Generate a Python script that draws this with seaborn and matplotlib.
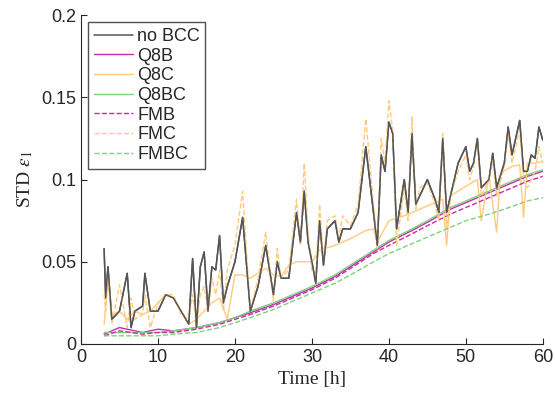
import numpy as np
import pandas as pd
import seaborn as sns
import matplotlib.pyplot as plt

# noisy series
t_gray = [3, 3.2, 3.5, 4, 5, 6, 6.5, 7, 8, 8.3, 9, 10, 11, 12, 13, 14, 14.5, 15, 15.5, 16, 16.5, 17, 17.5, 18,
          18.5, 19, 20, 21, 22, 23, 24, 25, 25.5, 26, 27, 28, 28.5, 29, 29.5, 30, 30.5, 31, 31.5, 32, 33, 33.5,
          34, 35, 36, 37, 38, 38.5, 39, 39.5, 40, 40.5, 41, 42, 42.5, 43, 43.5, 44, 45, 46, 46.5, 47, 47.5, 48,
          49, 50, 50.5, 51, 51.5, 52, 53, 53.5, 54, 55, 55.5, 56, 57, 57.5, 58, 58.5, 59, 59.5, 60]
no_bcc = [0.058, 0.028, 0.047, 0.015, 0.02, 0.043, 0.01, 0.02, 0.023, 0.043, 0.02, 0.02, 0.03, 0.028, 0.02,
          0.012, 0.052, 0.01, 0.047, 0.056, 0.02, 0.047, 0.045, 0.066, 0.025, 0.035, 0.05, 0.077, 0.02, 0.035,
          0.06, 0.03, 0.05, 0.04, 0.04, 0.08, 0.062, 0.093, 0.062, 0.05, 0.037, 0.075, 0.048, 0.07, 0.075, 0.062,
          0.07, 0.07, 0.08, 0.12, 0.08, 0.06, 0.115, 0.105, 0.135, 0.128, 0.07, 0.1, 0.08, 0.128, 0.085, 0.09,
          0.1, 0.088, 0.08, 0.125, 0.08, 0.09, 0.11, 0.12, 0.105, 0.11, 0.125, 0.095, 0.1, 0.116, 0.095, 0.11,
          0.132, 0.115, 0.136, 0.105, 0.105, 0.115, 0.113, 0.132, 0.124]
fmc = [0.03, 0.02, 0.042, 0.012, 0.036, 0.01, 0.028, 0.015, 0.018, 0.03, 0.01, 0.025, 0.03, 0.03, 0.018,
       0.015, 0.03, 0.012, 0.03, 0.035, 0.02, 0.04, 0.03, 0.045, 0.02, 0.045, 0.06, 0.093, 0.02, 0.04,
       0.068, 0.026, 0.058, 0.04, 0.045, 0.088, 0.06, 0.11, 0.068, 0.045, 0.04, 0.085, 0.05, 0.075, 0.078, 0.065,
       0.078, 0.072, 0.085, 0.137, 0.085, 0.058, 0.125, 0.11, 0.148, 0.13, 0.06, 0.095, 0.075, 0.138, 0.082, 0.095,
       0.098, 0.085, 0.075, 0.128, 0.07, 0.09, 0.105, 0.115, 0.1, 0.108, 0.125, 0.09, 0.1, 0.112, 0.09, 0.108,
       0.128, 0.11, 0.13, 0.1, 0.095, 0.1, 0.105, 0.12, 0.11]

t_q8c = [3, 3.5, 4, 5, 6, 7, 8, 9, 10, 11, 12, 13, 14, 15, 16, 17, 18, 19, 20, 21, 22, 23, 24, 25, 26, 27, 28,
         30, 31, 33, 35, 37, 38, 38.5, 40, 42, 44, 46, 47, 47.5, 48, 50, 51.5, 52, 53, 54, 54.5, 56, 57,
         57.5, 58, 59, 60]
q8c = [0.012, 0.04, 0.018, 0.02, 0.015, 0.02, 0.018, 0.02, 0.025, 0.03, 0.028, 0.02, 0.012, 0.015, 0.02,
       0.025, 0.028, 0.015, 0.042, 0.042, 0.04, 0.043, 0.046, 0.042, 0.041, 0.048, 0.05, 0.05, 0.057,
       0.06, 0.064, 0.069, 0.07, 0.062, 0.075, 0.078, 0.082, 0.086, 0.088, 0.06, 0.09, 0.096, 0.1, 0.075,
       0.102, 0.068, 0.104, 0.108, 0.109, 0.077, 0.11, 0.11, 0.111]

# smooth series
t_s = [3, 5, 8, 10, 12, 15, 18, 20, 22, 25, 28, 30, 33, 35, 38, 40, 43, 45, 48, 50, 53, 55, 58, 60]
q8bc = [0.007, 0.007, 0.007, 0.007, 0.008, 0.01, 0.013, 0.016, 0.02, 0.025, 0.031, 0.035, 0.042, 0.048,
        0.057, 0.063, 0.07, 0.075, 0.083, 0.087, 0.093, 0.097, 0.103, 0.106]
q8b = [0.006, 0.01, 0.007, 0.009, 0.008, 0.01, 0.013, 0.016, 0.019, 0.024, 0.03, 0.034, 0.041, 0.047,
       0.056, 0.062, 0.069, 0.074, 0.082, 0.086, 0.092, 0.096, 0.102, 0.105]
fmb = [0.005, 0.008, 0.006, 0.007, 0.007, 0.009, 0.012, 0.015, 0.018, 0.023, 0.029, 0.033, 0.04, 0.046,
       0.055, 0.06, 0.067, 0.072, 0.079, 0.083, 0.089, 0.093, 0.099, 0.102]
fmbc = [0.005, 0.005, 0.005, 0.005, 0.006, 0.007, 0.01, 0.013, 0.016, 0.021, 0.027, 0.031, 0.037, 0.042,
        0.05, 0.055, 0.061, 0.065, 0.071, 0.075, 0.079, 0.082, 0.087, 0.089]

sns.set_style("ticks")
plt.rcParams["font.family"] = ["Liberation Sans", "DejaVu Sans"]
plt.rcParams["mathtext.fontset"] = "stix"
plt.rcParams["xtick.direction"] = "in"
plt.rcParams["ytick.direction"] = "in"

gray, mag, ora, grn = "#555555", "#c22fa6", "#ffca80", "#7fd17f"

fig, ax = plt.subplots(figsize=(5.55, 4.0), dpi=100)
sns.lineplot(x=t_gray, y=no_bcc, ax=ax, color=gray, lw=1.1, label="no BCC")
sns.lineplot(x=t_s, y=q8b, ax=ax, color=mag, lw=1.0, label="Q8B")
sns.lineplot(x=t_q8c, y=q8c, ax=ax, color=ora, lw=1.0, label="Q8C")
sns.lineplot(x=t_s, y=q8bc, ax=ax, color=grn, lw=1.0, label="Q8BC")
sns.lineplot(x=t_s, y=fmb, ax=ax, color=mag, lw=1.0, ls="--", label="FMB")
sns.lineplot(x=t_gray, y=fmc, ax=ax, color=ora, lw=1.0, ls="--", label="FMC")
sns.lineplot(x=t_s, y=fmbc, ax=ax, color=grn, lw=1.0, ls="--", label="FMBC")
# redraw gray on top of the orange dashed line
sns.lineplot(x=t_gray, y=no_bcc, ax=ax, color=gray, lw=1.0, legend=False)

ax.set_xlim(0, 60)
ax.set_ylim(0, 0.2)
ax.set_xticks([0, 10, 20, 30, 40, 50, 60])
ax.set_yticks([0, 0.05, 0.1, 0.15, 0.2])
ax.set_yticklabels(["0", "0.05", "0.1", "0.15", "0.2"])
ax.tick_params(labelsize=13, colors="#262626", length=4)
for s in ["left", "bottom"]:
    ax.spines[s].set_color("#262626")
sns.despine(ax=ax)
ax.set_xlabel("Time [h]", fontsize=14, family="Liberation Serif")
ax.set_ylabel(r"STD $\epsilon_1$", fontsize=14, family="Liberation Serif")
leg = ax.legend(loc="upper left", fontsize=13, frameon=True, fancybox=False,
                handlelength=2.2, handletextpad=0.2, borderpad=0.3, labelspacing=0.15,
                borderaxespad=0.4)
leg.get_frame().set_edgecolor("#262626")
leg.get_frame().set_linewidth(1.0)

fig.subplots_adjust(left=0.146, right=0.978, top=0.962, bottom=0.14)
fig.savefig("out.png", dpi=100)
